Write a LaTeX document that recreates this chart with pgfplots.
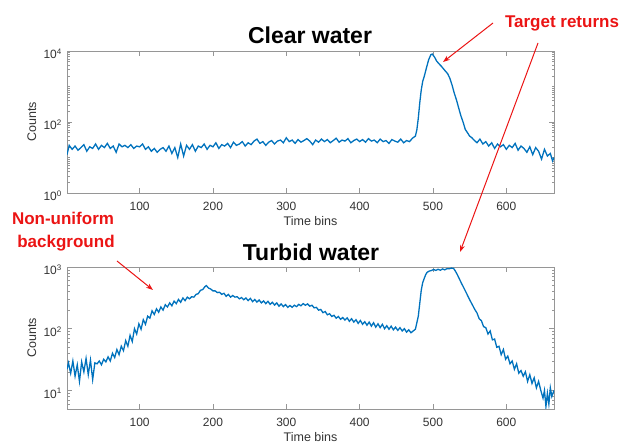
\documentclass[border=0pt]{standalone}
\usepackage{pgfplots}
\pgfplotsset{compat=1.18}
\usepackage{fontspec}
\setmainfont{Liberation Sans}
\usetikzlibrary{arrows.meta}
\definecolor{mblue}{RGB}{0,114,189}
\definecolor{ared}{RGB}{235,20,20}
\definecolor{axgray}{RGB}{150,150,150}
\pgfplotsset{
  mystyle/.style={
    scale only axis, width=487pt, height=142pt, anchor=south west,
    xmin=1, xmax=665,
    axis line style={axgray, line width=0.8pt},
    every tick/.style={axgray, line width=0.6pt},
    major tick length=5pt, minor tick length=2.5pt,
    tick align=inside,
    xtick={100,200,300,400,500,600},
    xticklabels={100,200,300,400,500,600},
    ticklabel style={font=\fontsize{12}{14}\selectfont, text=black!80},
    xticklabel style={anchor=base, yshift=-18pt},
    yticklabel style={anchor=east, inner sep=0pt, xshift=-5pt, yshift=-3pt},
    xlabel={Time bins},
    ylabel={Counts},
    label style={font=\fontsize{12.5}{14}\selectfont, text=black!80},
    xlabel style={at={(axis description cs:0.5,-0.232)}, anchor=base},
    ylabel style={at={(axis description cs:-0.072,0.5)}, anchor=center},
  }
}
\begin{document}
\begin{tikzpicture}[x=1pt,y=1pt]
\useasboundingbox (0,0) rectangle (623,444);
% ---------------- Clear water ----------------
\begin{axis}[ymode=log, mystyle, at={(67pt,251pt)},
  ymin=1, ymax=10000,
  ytick={1,100,10000},
  yticklabels={10\textsuperscript{0},10\textsuperscript{2},10\textsuperscript{4}},
  minor ytick={2,3,4,5,6,7,8,9,10,20,30,40,50,60,70,80,90,200,300,400,500,600,700,800,900,1000,2000,3000,4000,5000,6000,7000,8000,9000},
]
\addplot[mblue, line width=1.3pt] coordinates {
(1,12) (4,22) (8,17) (12,21) (16,16) (20,19) (24,23) (28,15) (32,20) (36,18)
(40,24) (44,17) (48,22) (52,19) (56,25) (60,18) (64,21) (68,14) (72,24) (76,20)
(80,22) (84,19) (88,23) (92,18) (96,21) (100,20) (104,24) (108,17) (112,20) (116,15)
(120,18) (124,14) (128,17) (132,19) (136,15) (140,21) (144,13) (148,19) (152,10) (156,24)
(160,11) (164,22) (168,17) (172,23) (176,15) (180,21) (184,19) (188,24) (192,17) (196,22)
(200,20) (204,26) (208,18) (212,23) (216,21) (220,25) (224,19) (228,27) (232,22) (236,24)
(240,28) (244,21) (248,26) (252,23) (256,29) (260,33) (264,25) (268,28) (272,22) (276,27)
(280,30) (284,24) (288,29) (292,31) (296,26) (300,36) (304,28) (308,31) (312,25) (316,32)
(320,27) (324,30) (328,34) (332,29) (336,23) (340,31) (344,27) (348,33) (352,28) (356,32)
(360,26) (364,30) (368,35) (372,27) (376,31) (380,29) (384,34) (388,26) (392,30) (396,33)
(400,28) (404,32) (408,27) (412,34) (416,29) (420,31) (424,26) (428,33) (432,28) (436,30)
(440,25) (444,32) (448,29) (452,27) (456,33) (460,26) (464,30) (468,28) (472,35) (476,40)
(478,60) (480,130) (482,350) (484,800) (486,1400) (488,1900) (491,3300) (494,5600) (497,7800) (499,8200)
(502,6800) (505,5200) (508,4400) (511,3800) (514,3200) (517,2700) (520,2300) (523,1700) (526,1100) (529,650)
(532,420) (535,250) (538,150) (541,100) (544,62) (547,50) (550,40) (553,36) (556,31) (560,26)
(564,33) (568,24) (572,28) (576,21) (580,26) (584,18) (588,24) (592,20) (596,23) (600,17)
(604,22) (608,19) (612,25) (616,16) (620,21) (624,18) (628,14) (632,20) (636,12) (640,19)
(644,15) (648,9) (652,17) (656,11) (660,13) (663,8) (665,10)
};
\end{axis}
% ---------------- Turbid water ----------------
\begin{axis}[ymode=log, mystyle, at={(67pt,35pt)},
  ymin=5, ymax=1000,
  ytick={10,100,1000},
  yticklabels={10\textsuperscript{1},10\textsuperscript{2},10\textsuperscript{3}},
  minor ytick={5,6,7,8,9,20,30,40,50,60,70,80,90,200,300,400,500,600,700,800,900},
]
\addplot[mblue, line width=1.3pt] coordinates {
(1,22) (3,28) (6,19) (9,30) (12,17) (15,26) (18,14) (21,29) (24,20) (27,33)
(30,18) (33,31) (36,15) (39,28) (42,27) (45,30) (48,26) (51,32) (54,29) (57,35)
(60,30) (63,40) (66,34) (69,46) (72,38) (75,52) (78,44) (81,64) (84,52) (87,78)
(90,62) (93,100) (96,82) (99,120) (102,98) (105,140) (108,118) (111,160) (114,148) (117,195)
(120,170) (123,210) (126,185) (129,225) (132,200) (135,245) (138,225) (141,262) (144,235) (147,280)
(150,255) (153,298) (156,268) (159,315) (162,285) (165,325) (168,305) (171,330) (174,325) (177,360)
(180,370) (183,420) (186,430) (189,480) (191,500) (194,455) (197,440) (200,410) (203,410) (206,385)
(209,390) (212,360) (215,375) (218,335) (221,360) (224,325) (227,345) (230,325) (233,330) (236,305)
(239,320) (242,295) (245,315) (248,285) (251,310) (254,275) (257,298) (260,270) (263,292) (266,262)
(269,282) (272,255) (275,278) (278,248) (281,268) (284,242) (287,262) (290,232) (293,252) (296,228)
(299,246) (302,222) (305,238) (308,222) (311,240) (314,228) (317,248) (320,235) (323,255) (326,240)
(329,252) (332,232) (335,240) (338,218) (341,222) (344,200) (347,205) (350,182) (353,190) (356,168)
(359,175) (362,158) (365,165) (368,148) (371,158) (374,142) (377,152) (380,138) (383,150) (386,132)
(389,145) (392,128) (395,140) (398,122) (401,136) (404,118) (407,130) (410,114) (413,128) (416,110)
(419,125) (422,106) (425,120) (428,104) (431,118) (434,100) (437,112) (440,98) (443,110) (446,96)
(449,106) (452,94) (455,104) (458,92) (461,100) (464,88) (467,96) (470,86) (473,92) (476,98)
(478,125) (480,160) (482,260) (484,420) (486,560) (488,650) (490,750) (492,820) (495,860) (498,880)
(501,910) (504,880) (507,920) (510,885) (513,930) (516,900) (519,940) (522,935) (525,960) (528,950)
(530,880) (533,760) (536,640) (539,540) (542,460) (545,390) (548,330) (551,280) (554,240) (557,205)
(560,180) (563,145) (566,135) (569,108) (572,104) (575,82) (578,92) (581,66) (584,68) (587,50)
(590,52) (593,38) (596,46) (599,32) (602,36) (605,27) (608,30) (611,22) (614,27) (617,19)
(620,21) (623,17) (626,20) (629,14) (632,18) (635,13) (638,16) (641,11) (644,14) (647,10)
(650,7.5) (652,10) (654,5.5) (656,9) (658,6) (660,11) (662,8) (665,10)
};
\end{axis}
% ---------------- titles ----------------
\node[anchor=base, font=\fontsize{23}{27}\selectfont\bfseries] at (310,400) {Clear water};
\node[anchor=base, font=\fontsize{23}{27}\selectfont\bfseries] at (311,183) {Turbid water};
% ---------------- annotations ----------------
\node[anchor=base, text=ared, font=\fontsize{17}{20}\selectfont\bfseries] at (562,416) {Target returns};
\node[anchor=base, text=ared, font=\fontsize{17}{20}\selectfont\bfseries] at (63,219) {Non-uniform};
\node[anchor=base, text=ared, font=\fontsize{17}{20}\selectfont\bfseries] at (66,196) {background};
\draw[ared, line width=1pt, -{Stealth[length=7pt,width=5pt]}] (493,421) -- (443,382);
\draw[ared, line width=1pt, -{Stealth[length=7pt,width=5pt]}] (538,401) -- (460,192);
\draw[ared, line width=1pt, -{Stealth[length=7pt,width=5pt]}] (117,183) -- (153,154);
\end{tikzpicture}
\end{document}
